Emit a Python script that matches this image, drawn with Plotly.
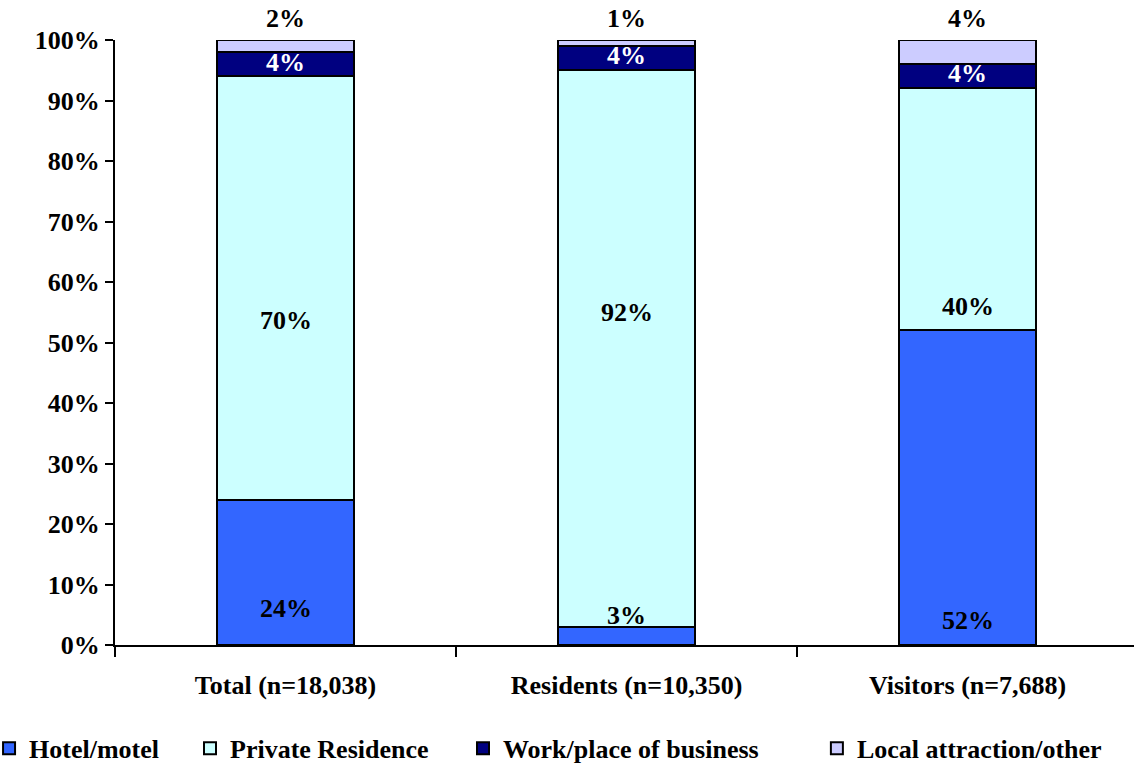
import plotly.graph_objects as go

categories = ["Total (n=18,038)", "Residents (n=10,350)", "Visitors (n=7,688)"]
series_names = ["Hotel/motel", "Private Residence", "Work/place of business", "Local attraction/other"]
hotel = [24, 3, 52]
private = [70, 92, 40]
work = [4, 4, 4]
local = [2, 1, 4]
colors = ["#3366FF", "#CCFFFF", "#000080", "#CCCCFF"]
label_colors = ["black", "black", "white", "black"]
# y positions (in % units) where the value labels sit, as in the original
label_y = [
    [6.1, 4.8, 4.0],
    [53.7, 55.0, 56.0],
    [96.2, 97.4, 94.4],
    [100, 100, 100],
]
# extra pixel shift for labels placed above the bar tops
label_shift = [0, 0, 0, 22]
# legend entry x positions (paper fraction)
legend_x = [-0.1236, 0.0736, 0.3415, 0.6888]

FONT = "Liberation Serif"
FS = 26
values = [hotel, private, work, local]
legend_ids = ["legend", "legend2", "legend3", "legend4"]

fig = go.Figure()
for name, vals, col, lid in zip(series_names, values, colors, legend_ids):
    fig.add_trace(go.Bar(
        x=categories, y=vals, name=f"<b>{name}</b>",
        marker=dict(color=col, line=dict(color="black", width=2)),
        width=0.4, legend=lid,
    ))

for vals, ys, lc, sh in zip(values, label_y, label_colors, label_shift):
    for cat, v, yy in zip(categories, vals, ys):
        fig.add_annotation(x=cat, y=yy, text=f"<b>{v}%</b>", showarrow=False,
                           font=dict(family=FONT, size=FS, color=lc),
                           xanchor="center", yanchor="middle", yshift=sh)

leg_common = dict(orientation="h", y=-0.132, xanchor="left", yanchor="top",
                  font=dict(family=FONT, size=FS, color="black"), itemwidth=30,
                  bgcolor="rgba(0,0,0,0)")
legend_layout = {lid: dict(x=lx, **leg_common) for lid, lx in zip(legend_ids, legend_x)}

fig.update_layout(
    barmode="stack",
    width=1134, height=766,
    margin=dict(l=115, r=0, t=40, b=121, autoexpand=False),
    paper_bgcolor="white", plot_bgcolor="white",
    font=dict(family=FONT, size=FS, color="black"),
    showlegend=True,
    **legend_layout,
    xaxis=dict(
        type="category",
        range=[-0.5, 2.488],
        tickvals=categories,
        ticktext=[f"<b>{c}</b>" for c in categories],
        showline=True, linecolor="black", linewidth=2,
        ticks="outside", tickson="boundaries", ticklen=10, tickwidth=2, tickcolor="black",
        showgrid=False, automargin=False,
        tickfont=dict(family=FONT, size=FS, color="black"),
        ticklabelstandoff=16,
    ),
    yaxis=dict(
        range=[0, 100], tickvals=list(range(0, 101, 10)),
        ticktext=[f"<b>{v}%</b>" for v in range(0, 101, 10)],
        showline=True, linecolor="black", linewidth=2,
        ticks="outside", ticklen=8, tickwidth=2, tickcolor="black",
        showgrid=False, zeroline=False, automargin=False,
        tickfont=dict(family=FONT, size=FS, color="black"),
    ),
)

fig.write_html("out.html")
